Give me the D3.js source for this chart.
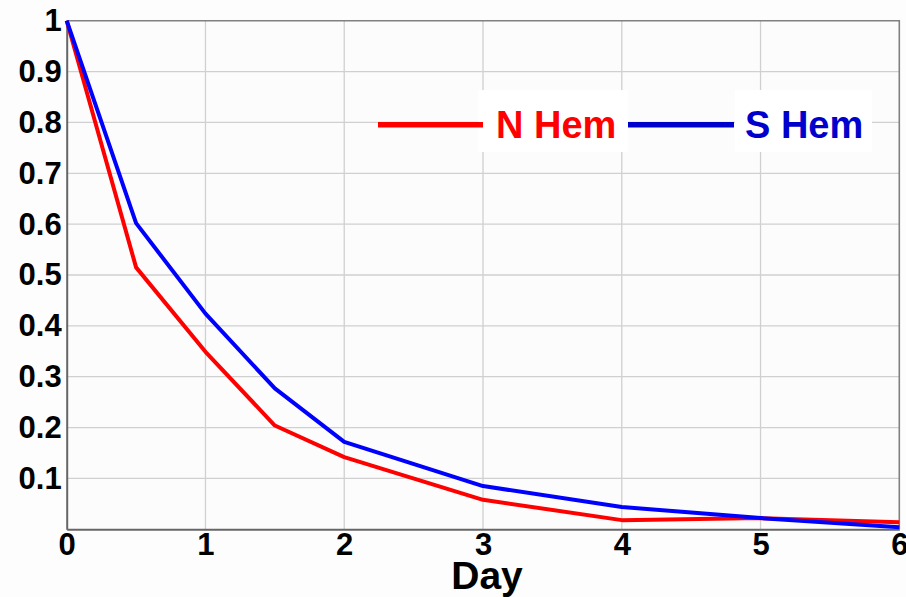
<!DOCTYPE html>
<html>
<head>
<meta charset="utf-8">
<script src="https://cdn.jsdelivr.net/npm/d3@7"></script>
<style>
  html, body { margin: 0; padding: 0; background: #fdfdfd; }
  svg { display: block; }
  text { font-family: "Liberation Sans", Arial, Helvetica, sans-serif; font-weight: bold; }
</style>
</head>
<body>
<svg id="chart" width="906" height="597"></svg>
<script>
// Fraction remaining versus day, per hemisphere
const days = [0, 0.5, 1, 1.5, 2, 3, 4, 5, 6];
const nHem = [1.0, 0.515, 0.349, 0.204, 0.142, 0.058, 0.018, 0.022, 0.014];
const sHem = [1.0, 0.602, 0.424, 0.277, 0.172, 0.085, 0.044, 0.022, 0.004];
const xTicks = [0, 1, 2, 3, 4, 5, 6];
const yTicks = [0.1, 0.2, 0.3, 0.4, 0.5, 0.6, 0.7, 0.8, 0.9, 1];
const seriesNames = ["N Hem", "S Hem"];
const seriesColors = ["#ff0000", "#0000ff"];
const legendColors = ["#ff0000", "#0000cc"];

const svg = d3.select("#chart");
const plot = { left: 66.7, right: 899.3, top: 20.7, bottom: 529.3 };

const x = d3.scaleLinear().domain([0, 6]).range([plot.left, plot.right]);
const y = d3.scaleLinear().domain([0, 1]).range([plot.bottom, plot.top]);

// plot background
svg.append("rect")
  .attr("x", plot.left).attr("y", plot.top)
  .attr("width", plot.right - plot.left).attr("height", plot.bottom - plot.top)
  .attr("fill", "#fcfcfc");

// grid
const grid = svg.append("g").attr("stroke", "#d0d0d0").attr("stroke-width", 1.3);
grid.selectAll("line.gx").data(xTicks.slice(1, -1)).join("line")
  .attr("class", "gx")
  .attr("x1", d => x(d)).attr("x2", d => x(d))
  .attr("y1", plot.top).attr("y2", plot.bottom);
grid.selectAll("line.gy").data(yTicks.slice(0, -1)).join("line")
  .attr("class", "gy")
  .attr("x1", plot.left).attr("x2", plot.right)
  .attr("y1", d => y(d)).attr("y2", d => y(d));

// frame: top and right edges
svg.append("path")
  .attr("d", `M${plot.left},${plot.top}H${plot.right}V${plot.bottom}`)
  .attr("fill", "none").attr("stroke", "#808080").attr("stroke-width", 1.6);

// axes
const xAxis = d3.axisBottom(x).tickValues(xTicks).tickSize(0).tickPadding(4)
  .tickFormat(d3.format("d"));
const gx = svg.append("g").attr("transform", `translate(0,${plot.bottom})`).call(xAxis);
gx.select(".domain").attr("stroke", "#666").attr("stroke-width", 2);
gx.selectAll("text").attr("font-size", 31).attr("fill", "#000")
  .attr("font-family", "Liberation Sans, Arial, sans-serif").attr("font-weight", "bold");

const yAxis = d3.axisLeft(y).tickValues(yTicks).tickSize(0).tickPadding(5)
  .tickFormat(d => d === 1 ? "1" : d3.format(".1f")(d));
const gy = svg.append("g").attr("transform", `translate(${plot.left},0)`).call(yAxis);
gy.select(".domain").attr("stroke", "#666").attr("stroke-width", 2);
gy.selectAll("text").attr("font-size", 31).attr("fill", "#000")
  .attr("font-family", "Liberation Sans, Arial, sans-serif").attr("font-weight", "bold");

// x-axis title
svg.append("text")
  .attr("x", (plot.left + plot.right) / 2 + 4).attr("y", 589)
  .attr("text-anchor", "middle").attr("font-size", 39).attr("fill", "#000")
  .text("Day");

// series lines
const line = d3.line().x((d, i) => x(days[i])).y(d => y(d));
[nHem, sHem].forEach((vals, k) => {
  svg.append("path")
    .datum(vals)
    .attr("d", line)
    .attr("fill", "none")
    .attr("stroke", seriesColors[k])
    .attr("stroke-width", 4)
    .attr("stroke-linejoin", "round");
});

// legend
const legendItems = [
  { name: seriesNames[0], color: legendColors[0], x1: 378, x2: 483, tx: 496, box: [478, 90, 150, 62] },
  { name: seriesNames[1], color: legendColors[1], x1: 628, x2: 734, tx: 745, box: [735, 90, 137, 62] }
];
const legY = 124.7;
legendItems.forEach(it => {
  svg.append("rect")
    .attr("x", it.box[0]).attr("y", it.box[1])
    .attr("width", it.box[2]).attr("height", it.box[3])
    .attr("fill", "#ffffff");
  svg.append("line")
    .attr("x1", it.x1).attr("x2", it.x2)
    .attr("y1", legY).attr("y2", legY)
    .attr("stroke", it.color).attr("stroke-width", 5.5);
  svg.append("text")
    .attr("x", it.tx).attr("y", legY + 13.5)
    .attr("font-size", 38).attr("fill", it.color)
    .text(it.name);
});
</script>
</body>
</html>
